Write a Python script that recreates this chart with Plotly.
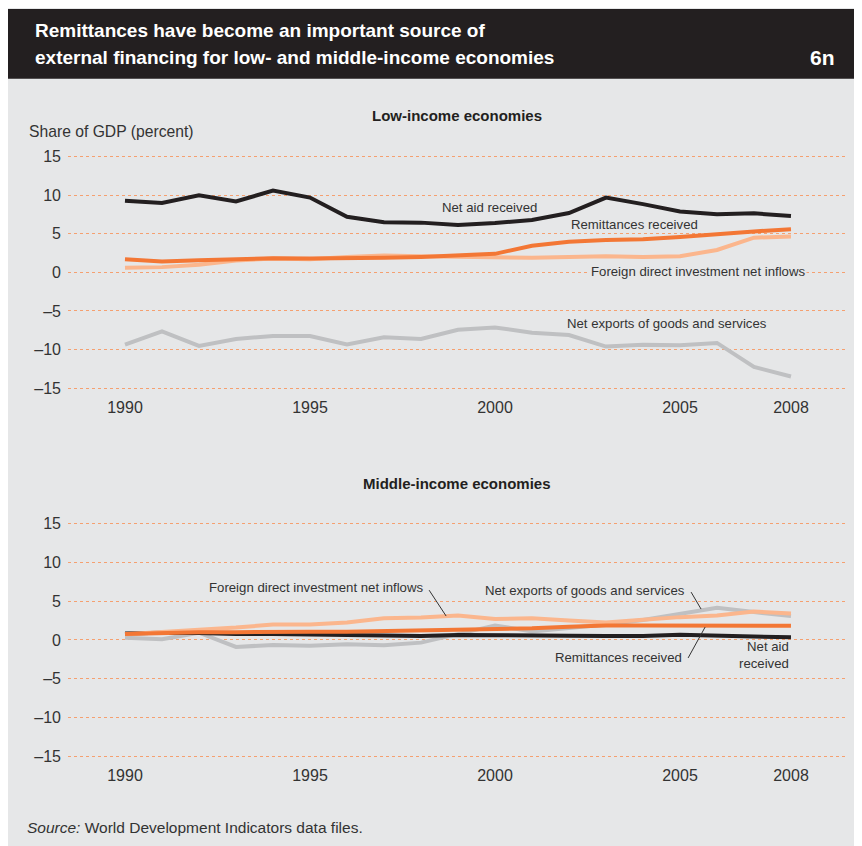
import plotly.graph_objects as go

years = list(range(1990, 2009))

# Low-income economies (share of GDP, percent)
low_net_aid = [9.3, 9.0, 10.0, 9.2, 10.6, 9.7, 7.2, 6.5, 6.45, 6.15, 6.4, 6.8, 7.7, 9.7, 8.85, 7.9, 7.55, 7.65, 7.3]
low_remit = [1.7, 1.4, 1.58, 1.7, 1.84, 1.8, 1.8, 1.88, 2.0, 2.18, 2.4, 3.46, 3.97, 4.19, 4.3, 4.6, 5.0, 5.3, 5.6]
low_fdi = [0.6, 0.68, 1.0, 1.54, 1.8, 1.7, 2.0, 2.2, 2.1, 2.05, 1.88, 1.88, 2.0, 2.1, 2.0, 2.1, 2.9, 4.5, 4.65]
low_netexp = [-9.36, -7.65, -9.53, -8.63, -8.25, -8.25, -9.36, -8.42, -8.63, -7.44, -7.14, -7.82, -8.12, -9.62, -9.4, -9.44, -9.15, -12.26, -13.5]

# Middle-income economies
mid_net_aid = [0.85, 0.94, 0.9, 0.77, 0.77, 0.68, 0.6, 0.56, 0.5, 0.64, 0.64, 0.64, 0.56, 0.5, 0.5, 0.68, 0.56, 0.39, 0.34]
mid_remit = [0.77, 0.9, 1.0, 1.0, 1.07, 1.07, 1.07, 1.15, 1.2, 1.24, 1.33, 1.5, 1.7, 1.88, 1.88, 1.88, 1.88, 1.88, 1.84]
mid_fdi = [0.73, 1.0, 1.3, 1.6, 2.0, 2.0, 2.27, 2.8, 2.9, 3.17, 2.7, 2.8, 2.5, 2.27, 2.6, 2.95, 3.17, 3.68, 3.42]
mid_netexp = [0.3, 0.1, 0.94, -0.9, -0.64, -0.73, -0.56, -0.68, -0.34, 0.73, 1.88, 1.1, 1.5, 2.0, 2.57, 3.42, 4.15, 3.6, 3.08]

y_ticks = [-15, -10, -5, 0, 5, 10, 15]
y_tick_text = ["\u201315", "\u201310", "\u20135", "0", "5", "10", "15"]
x_ticks = [1990, 1995, 2000, 2005, 2008]

BLACK = "#231f20"
DARK_OR = "#f37735"
LIGHT_OR = "#fbb68d"
GRAY = "#bfc0c2"
BG = "#e6e7e8"
TXT = "#333333"
FONT = "Liberation Sans"

W, H = 854, 838

fig = go.Figure()

def add_lines(xa, ya, exp, aid, fdi, rem):
    for vals, col in [(exp, GRAY), (aid, BLACK), (fdi, LIGHT_OR), (rem, DARK_OR)]:
        fig.add_trace(go.Scatter(x=years, y=vals, mode="lines", xaxis=xa, yaxis=ya,
                                 line=dict(color=col, width=4), showlegend=False,
                                 hoverinfo="skip"))

add_lines("x", "y", low_netexp, low_net_aid, low_fdi, low_remit)
add_lines("x2", "y2", mid_netexp, mid_net_aid, mid_fdi, mid_remit)


def px(xp):
    # reference-window pixel -> paper fraction (page has 8px body margin)
    return (xp - 8) / W


def py(yp):
    return (H + 8 - yp) / H


xr = [1988.46, 2009.46]
axis_x = dict(range=xr, tickmode="array", tickvals=x_ticks, showgrid=False, zeroline=False,
              showline=False, ticks="", tickfont=dict(family=FONT, size=16, color=TXT),
              domain=[px(68), px(845)], fixedrange=True)
axis_y = dict(range=[-16, 16], tickmode="array", tickvals=y_ticks, ticktext=y_tick_text,
              showgrid=True, gridcolor="#f5a070", griddash="dot", gridwidth=1,
              zeroline=False, showline=False, ticks="", ticklabelstandoff=6,
              tickfont=dict(family=FONT, size=16, color=TXT), fixedrange=True)

fig.update_layout(
    width=W, height=H,
    margin=dict(l=0, r=0, t=0, b=0),
    paper_bgcolor=BG, plot_bgcolor=BG,
    xaxis=dict(**axis_x, anchor="y"),
    yaxis=dict(**axis_y, domain=[py(395.7), py(148.3)], anchor="x"),
    xaxis2=dict(**axis_x, anchor="y2"),
    yaxis2=dict(**axis_y, domain=[py(764.8), py(516.2)], anchor="x2"),
)

# Header band
fig.add_shape(type="rect", xref="paper", yref="paper", x0=0, x1=1, y0=py(78), y1=1,
              fillcolor=BLACK, line_width=0, layer="below")

ann = []
# Header
ann.append(dict(text="<b>Remittances have become an important source of</b>", x=px(33), y=py(30),
                xanchor="left", yanchor="middle", font=dict(family=FONT, size=19, color="white")))
ann.append(dict(text="<b>external financing for low- and middle-income economies</b>", x=px(33), y=py(57),
                xanchor="left", yanchor="middle", font=dict(family=FONT, size=19, color="white")))
ann.append(dict(text="<b>6n</b>", x=px(837), y=py(57), xanchor="right", yanchor="middle",
                font=dict(family=FONT, size=21, color="white")))
# Panel titles
ann.append(dict(text="<b>Low-income economies</b>", x=px(457), y=py(115), xanchor="center", yanchor="middle",
                font=dict(family=FONT, size=15, color=BLACK)))
ann.append(dict(text="<b>Middle-income economies</b>", x=px(457), y=py(484), xanchor="center", yanchor="middle",
                font=dict(family=FONT, size=15, color=BLACK)))
ann.append(dict(text="Share of GDP (percent)", x=px(27), y=py(131), xanchor="left", yanchor="middle",
                font=dict(family=FONT, size=15.7, color=TXT)))
ann.append(dict(text="<i>Source:</i> World Development Indicators data files.", x=px(25), y=py(828),
                xanchor="left", yanchor="middle", font=dict(family=FONT, size=15.5, color=TXT)))
for a in ann:
    a.update(xref="paper", yref="paper", showarrow=False)

lab = dict(family=FONT, size=13.2, color=TXT)
# Low-income labels (data coords)
ann += [
    dict(text="Net aid received", x=2001.2, y=8.4, xref="x", yref="y", xanchor="right", yanchor="middle",
         showarrow=False, font=lab),
    dict(text="Remittances received", x=2002.0, y=6.2, xref="x", yref="y", xanchor="left", yanchor="middle",
         showarrow=False, font=lab),
    dict(text="Foreign direct investment net inflows", x=2002.55, y=0.1, xref="x", yref="y",
         xanchor="left", yanchor="middle", showarrow=False, font=lab, bgcolor=BG, borderpad=1),
    dict(text="Net exports of goods and services", x=2001.9, y=-6.6, xref="x", yref="y",
         xanchor="left", yanchor="middle", showarrow=False, font=lab),
]
# Middle-income labels
ann += [
    dict(text="Foreign direct investment net inflows", x=1998.1, y=6.8, xref="x2", yref="y2",
         xanchor="right", yanchor="middle", showarrow=False, font=lab),
    dict(text="Net exports of goods and services", x=2005.2, y=6.4, xref="x2", yref="y2",
         xanchor="right", yanchor="middle", showarrow=False, font=lab),
    dict(text="Remittances received", x=2005.1, y=-2.2, xref="x2", yref="y2",
         xanchor="right", yanchor="middle", showarrow=False, font=lab),
    dict(text="Net aid<br>received", x=2008.0, y=-2.0, xref="x2", yref="y2",
         xanchor="right", yanchor="middle", align="right", showarrow=False, font=lab),
]
fig.update_layout(annotations=ann)

# Leader lines
for (x0, y0, x1, y1) in [(1998.22, 6.43, 1998.68, 3.09), (2005.3, 6.18, 2005.57, 3.99),
                         (2005.22, -2.32, 2005.68, 1.67)]:
    fig.add_shape(type="line", xref="x2", yref="y2", x0=x0, y0=y0, x1=x1, y1=y1,
                  line=dict(color=TXT, width=1))

fig.write_html("out.html")
